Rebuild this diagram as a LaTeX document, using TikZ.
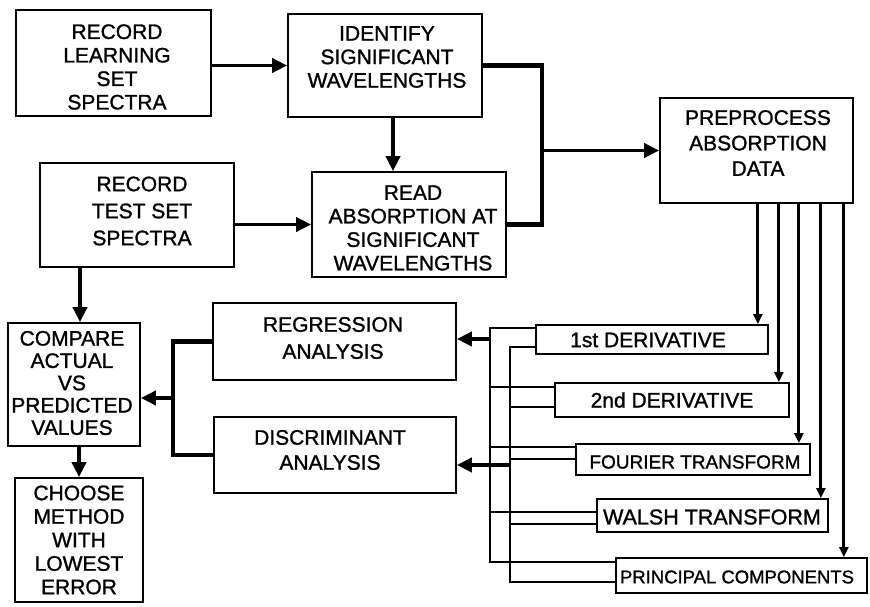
\documentclass[tikz,border=0pt]{standalone}
\usepackage{fontspec}
\setmainfont{Liberation Sans}[UprightFeatures={FakeBold=1.2}]
\usetikzlibrary{arrows.meta,calc}
\begin{document}
\begin{tikzpicture}[x=1pt,y=1pt,
  box/.style={draw, line width=1.7pt, rectangle, inner sep=0pt},
  lbl/.style={align=center, inner sep=0pt, font=\fontsize{21}{23.5}\selectfont},
  conn/.style={line width=3.8pt, -{Triangle[length=15pt,width=14pt]}},
  bus/.style={line width=4.8pt, line join=miter},
  conn2/.style={line width=4.2pt, -{Triangle[length=15pt,width=14pt]}},
  sarr/.style={line width=3pt, -{Triangle[length=10pt,width=9pt]}},
  mline/.style={line width=2.4pt, line join=miter}
]
\useasboundingbox (0,0) rectangle (870,-607);

% boxes
\node[box, minimum width=195pt, minimum height=106pt] (learn) at (113.5,-63) {};
\node[box, minimum width=194pt, minimum height=103pt] (ident) at (385,-65.5) {};
\node[box, minimum width=194pt, minimum height=104pt] (test) at (137,-215) {};
\node[box, minimum width=194pt, minimum height=105pt] (read) at (409,-224.5) {};
\node[box, minimum width=193pt, minimum height=105pt] (pre) at (756.5,-150.5) {};
\node[box, minimum width=132pt, minimum height=123pt] (cmp) at (74,-384.5) {};
\node[box, minimum width=128pt, minimum height=124pt] (choose) at (79,-540) {};
\node[box, minimum width=243pt, minimum height=77pt] (reg) at (334.5,-341.5) {};
\node[box, minimum width=242pt, minimum height=76pt] (disc) at (335,-455) {};
\node[box, minimum width=232pt, minimum height=29pt] (d1) at (652,-339.5) {};
\node[box, minimum width=234pt, minimum height=34pt] (d2) at (672,-400) {};
\node[box, minimum width=234pt, minimum height=31pt] (d3) at (693,-459.5) {};
\node[box, minimum width=231pt, minimum height=33pt] (d4) at (712.5,-515.5) {};
\node[box, minimum width=251pt, minimum height=35pt] (d5) at (741.5,-575.5) {};

% labels
\node[lbl] (learnT) at (117,-67) {RECORD\\LEARNING\\SET\\SPECTRA};
\node[lbl] (identT) at (387,-57) {IDENTIFY\\SIGNIFICANT\\WAVELENGTHS};
\node[lbl, font=\fontsize{21}{27}\selectfont] (testT) at (142,-211) {RECORD\\TEST SET\\SPECTRA};
\node[lbl] (readT) at (413,-228) {READ\\ABSORPTION AT\\SIGNIFICANT\\WAVELENGTHS};
\node[lbl, font=\fontsize{21}{25.5}\selectfont] (preT) at (758,-143) {PREPROCESS\\ABSORPTION\\DATA};
\node[lbl, font=\fontsize{21}{22.3}\selectfont] (cmpT) at (72,-383) {COMPARE\\ACTUAL\\VS\\PREDICTED\\VALUES};
\node[lbl] (chooseT) at (79,-540) {CHOOSE\\METHOD\\WITH\\LOWEST\\ERROR};
\node[lbl, font=\fontsize{21}{27}\selectfont] (regT) at (333,-338) {REGRESSION\\ANALYSIS};
\node[lbl, font=\fontsize{21}{25}\selectfont] (discT) at (330,-450) {DISCRIMINANT\\ANALYSIS};
\node[lbl, font=\fontsize{21}{24}\selectfont] (d1T) at (648,-340) {1st DERIVATIVE};
\node[lbl, font=\fontsize{21}{24}\selectfont] (d2T) at (672,-400) {2nd DERIVATIVE};
\node[lbl, font=\fontsize{19}{22}\selectfont] (d3T) at (695,-462) {FOURIER TRANSFORM};
\node[lbl, font=\fontsize{21.5}{24}\selectfont] (d4T) at (712,-517) {WALSH TRANSFORM};
\node[lbl, font=\fontsize{18.5}{22}\selectfont] (d5T) at (737,-577) {PRINCIPAL COMPONENTS};

% upper flow
\draw[conn] (learn.east |- ident.west) -- (ident.west);
\draw[conn] ([xshift=8pt]ident.south) -- ([xshift=8pt]ident.south |- read.north);
\draw[conn] (test.east |- read.west) -- (read.west);
\coordinate (bj) at (542,-150.5);
\draw[bus] (ident.east) -| (bj) |- (read.east);
\draw[conn] (bj) -- (pre.west);

% left flow
\draw[conn] ([xshift=6pt]cmp.north |- test.south) -- ([xshift=6pt]cmp.north);
\draw[conn] (cmp.south -| choose.north) -- (choose.north);
\coordinate (cj) at (173,-398);
\draw[bus] (reg.west) -| (cj) |- (disc.west);
\draw[conn] (cj) -- (cmp.east |- cj);

% preprocess to methods
\coordinate (p1) at ([xshift=-11pt]d1.north east);
\coordinate (p2) at ([xshift=-11pt]d2.north east);
\coordinate (p3) at ([xshift=-12pt]d3.north east);
\coordinate (p4) at ([xshift=-8pt]d4.north east);
\coordinate (p5) at ([xshift=-24pt]d5.north east);
\foreach \p in {p1,p2,p3,p4,p5}{
  \draw[sarr] (pre.south -| \p) -- (\p);
}

% buses
\coordinate (o1) at (490,-328); \coordinate (i1) at (510,-347);
\coordinate (o2) at (490,-387); \coordinate (i2) at (510,-407);
\coordinate (o3) at (490,-447); \coordinate (i3) at (510,-459);
\coordinate (o4) at (490,-512); \coordinate (i4) at (510,-524);
\coordinate (o5) at (490,-562); \coordinate (i5) at (510,-582);
\draw[mline] (d1.west |- o1) -- (o1) -- (o5) -- (d5.west |- o5);
\draw[mline] (d1.west |- i1) -- (i1) -- (i5) -- (d5.west |- i5);
\draw[mline] (d2.west |- o2) -- (o2);
\draw[mline] (d2.west |- i2) -- (i2);
\draw[mline] (d3.west |- o3) -- (o3);
\draw[mline] (d3.west |- i3) -- (i3);
\draw[mline] (d4.west |- o4) -- (o4);
\draw[mline] (d4.west |- i4) -- (i4);

\coordinate (ro) at (490,-339);
\draw[conn2] (ro) -- (reg.east |- ro);
\coordinate (di) at (510,-465);
\draw[conn2] (di) -- (disc.east |- di);
\end{tikzpicture}
\end{document}
